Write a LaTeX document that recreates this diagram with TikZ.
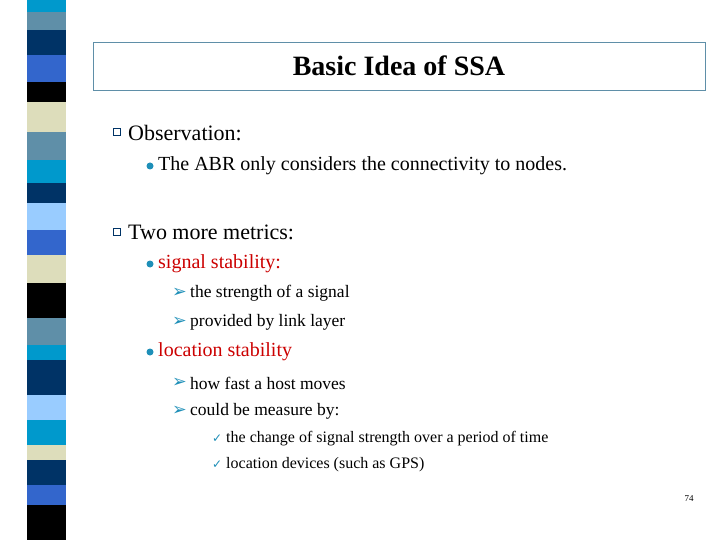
\documentclass[tikz,border=0pt]{standalone}
\usepackage{fontspec}
\setmainfont{Liberation Serif}
\newfontfamily\symf{DejaVu Sans}
\definecolor{cy}{HTML}{0099CC}\definecolor{st}{HTML}{5F8FA8}\definecolor{nv}{HTML}{003366}
\definecolor{ro}{HTML}{3366CC}\definecolor{be}{HTML}{DDDDBB}\definecolor{lb}{HTML}{99CCFF}
\definecolor{rd}{HTML}{CC0000}\definecolor{bl}{HTML}{1E8FB8}
\begin{document}
\begin{tikzpicture}[x=1pt,y=-1pt,
 t1/.style={anchor=west,font=\fontsize{22}{24}\selectfont,inner sep=0},
 t2/.style={anchor=west,font=\fontsize{20}{22}\selectfont,inner sep=0},
 t3/.style={anchor=west,font=\fontsize{17.5}{20}\selectfont,inner sep=0},
 t4/.style={anchor=west,font=\fontsize{16}{18}\selectfont,inner sep=0}]
\useasboundingbox[fill=white] (0,0) rectangle (720,540);
\foreach \a/\b/\c in {0/12/cy,12/30/st,30/55/nv,55/82/ro,82/102/black,102/132/be,132/160/st,160/183/cy,183/203/nv,203/230/lb,230/255/ro,255/283/be,283/318/black,318/345/st,345/360/cy,360/395/nv,395/420/lb,420/445/cy,445/460/be,460/485/nv,485/505/ro,505/540/black}
 \fill[\c] (27,\a) rectangle (66,\b);
\node[draw=st,minimum width=612,minimum height=48,inner sep=0] (title) at (399,66) {};
\node[font=\bfseries\fontsize{28}{30}\selectfont] (tt) at (title) {Basic Idea of SSA};
\node[draw=nv,fill=white,minimum size=7,inner sep=0] (q1) at (117,132) {};
\node[t1] (o) at (128,133) {Observation:};
\fill[bl] (150,166) circle (3.5) coordinate (d1);
\node[t2] (o1) at (158,166) {The ABR only considers the connectivity to nodes.};
\node[draw=nv,fill=white,minimum size=7,inner sep=0] (q2) at (117,232) {};
\node[t1] (m) at (128,232) {Two more metrics:};
\fill[bl] (150,264) circle (3.5);
\node[t2,text=rd] (s) at (158,264) {signal stability:};
\node[t3,text=bl] (a1) at (172,293) {\symf ➢};
\node[t3] at (190,293) {the strength of a signal};
\node[t3,text=bl] (a2) at (172,322) {\symf ➢};
\node[t3] at (190,322) {provided by link layer};
\fill[bl] (150,352) circle (3.5);
\node[t2,text=rd] (l) at (158,352) {location stability};
\node[t3,text=bl] at (172,383) {\symf ➢};
\node[t3] at (190,383) {how fast a host moves};
\node[t3,text=bl] at (172,411) {\symf ➢};
\node[t3] at (190,411) {could be measure by:};
\node[t4,text=bl] at (212,439) {\symf\fontsize{12}{14}\selectfont ✓};
\node[t4] at (226,439) {the change of signal strength over a period of time};
\node[t4,text=bl] at (212,465) {\symf\fontsize{12}{14}\selectfont ✓};
\node[t4] at (226,465) {location devices (such as GPS)};
\node[font=\fontsize{9}{10}\selectfont] (pg) at (689,499) {74};
\end{tikzpicture}
\end{document}
